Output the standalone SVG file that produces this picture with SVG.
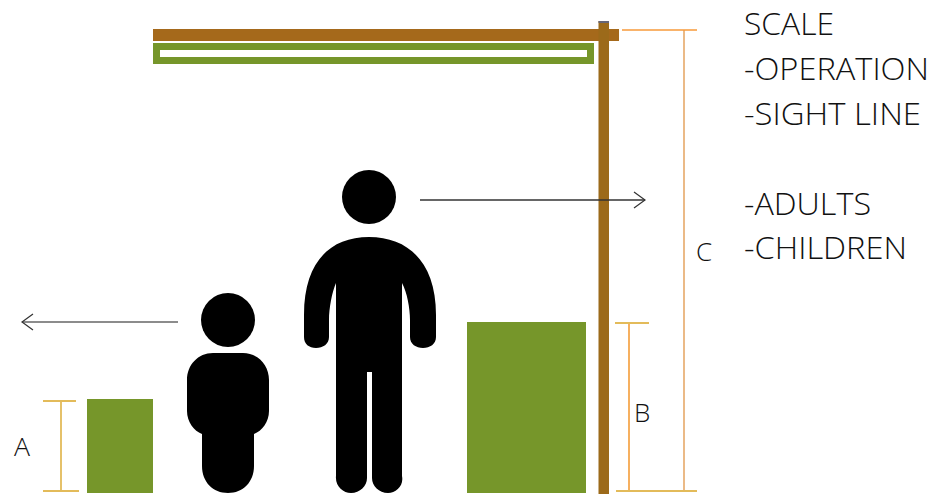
<svg xmlns="http://www.w3.org/2000/svg" width="934" height="497" viewBox="0 0 934 497">
<defs>
<marker id="open" markerWidth="14" markerHeight="18" refX="12" refY="9" orient="auto-start-reverse" markerUnits="userSpaceOnUse"><path d="M1 1L12 9L1 17" fill="none" stroke="#333" stroke-width="1.2"/></marker>
</defs>
<style>
.t{font-family:"Open Sans","Liberation Sans",sans-serif;font-weight:300;fill:#111}
.big{font-size:32px}
.lab{font-size:26px}
.dim{stroke:#f5a84f;stroke-width:1.8;fill:none}
.dimc{stroke:#e9b37a;stroke-width:1.8;fill:none}
.top{stroke:#f79a3a;stroke-width:1.6;fill:none}
.gold{stroke:#e3bb5a;stroke-width:1.8;fill:none}
.arrow{stroke:#333;stroke-width:1.3;fill:none}
.wood{fill:#a5691b}
.post{fill:#9c6a1a}
.green{fill:#76962a}
</style>
<rect width="934" height="497" fill="#fff"/>
<g id="structure">
<rect class="wood" x="153" y="29" width="466" height="12"/>
<path class="green" fill-rule="evenodd" d="M153 43H594V64H153ZM160 50V57H587V50Z"/>
<rect class="post" x="598.500" y="21" width="10.500" height="473"/>
<rect x="598.500" y="21" width="10.500" height="2" fill="#667"/>
</g>
<g id="box-a"><rect class="green" x="87" y="399" width="66" height="94"/></g>
<g id="box-b"><rect class="green" x="467" y="322" width="119" height="171"/></g>
<g id="child">
<circle cx="228" cy="320" r="27"/>
<path d="M213 353H243C258 353 269 365 269 380V411C269 422 262 431 254 434V466C254 482 243 493 228 493C213 493 202 482 202 466V434C194 431 187 422 187 411V380C187 365 198 353 213 353Z"/>
</g>
<g id="adult">
<circle cx="369" cy="197" r="27"/>
<path d="M369 237C408 237 436 262 436 315V337C436 344 430 348 423 348C416 348 410 344 410 337V320C410 308 407 292 402 283V476C404 486 396 493 388 493C379 493 372 486 372 478V372H367V478C367 486 360 493 351 493C343 493 335 486 336 476V283C332 292 329 308 329 320V337C329 344 323 348 316 348C309 348 304 344 304 337V315C304 262 330 237 369 237Z"/>
</g>
<g id="connectors">
<path class="arrow" marker-end="url(#open)" d="M420 200H645"/>
<path class="arrow" marker-end="url(#open)" stroke-opacity=".75" d="M178 322H22"/>
<path class="gold" d="M43 401H76M43 491H79M61 401V491"/>
<path class="dim" d="M629 323V491"/>
<path class="dimc" d="M684 30V491"/>
<path class="top" d="M622 30H697"/>
<path class="gold" d="M615 323H649M616 491H697"/>
</g>
<g id="labels">
<text class="t lab" x="14" y="456" textLength="16" lengthAdjust="spacingAndGlyphs">A</text>
<text class="t lab" x="634" y="422">B</text>
<text class="t lab" x="696" y="261">C</text>
<text class="t big" x="744" y="35" textLength="90" lengthAdjust="spacingAndGlyphs">SCALE</text>
<text class="t big" x="744" y="80" textLength="185" lengthAdjust="spacingAndGlyphs">-OPERATION</text>
<text class="t big" x="744" y="125" textLength="177" lengthAdjust="spacingAndGlyphs">-SIGHT LINE</text>
<text class="t big" x="744" y="215" textLength="127" lengthAdjust="spacingAndGlyphs">-ADULTS</text>
<text class="t big" x="744" y="259" textLength="163" lengthAdjust="spacingAndGlyphs">-CHILDREN</text>
</g>
</svg>
